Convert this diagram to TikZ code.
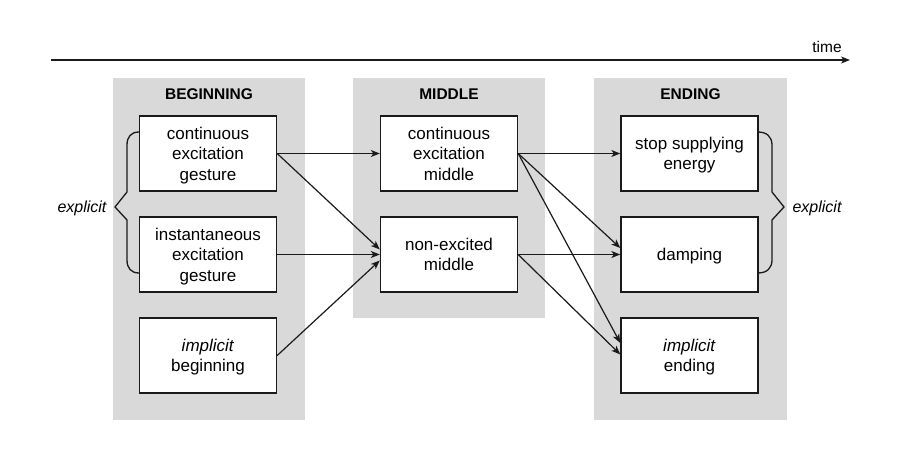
\documentclass[tikz,border=0pt]{standalone}
\usepackage{fontspec}
\setmainfont{Liberation Sans}
\usetikzlibrary{arrows.meta}
\definecolor{panelgray}{HTML}{D9D9D9}
\definecolor{edge}{HTML}{1A1A1A}
\tikzset{
  panel/.style={fill=panelgray, draw=none, inner sep=0pt, anchor=north west},
  stagebox/.style={draw=edge, line width=1.4pt, fill=white, minimum width=137pt, minimum height=75pt,
    align=center, inner sep=2pt, text depth=0pt, font=\fontsize{17}{20.5}\selectfont},
  paneltitle/.style={font=\fontsize{15.5}{18}\selectfont\bfseries},
  note/.style={font=\fontsize{16}{19}\selectfont\itshape},
  conn/.style={draw=edge, line width=1.2pt, -{Stealth[length=9pt,width=7pt,inset=2.5pt]}},
  bracel/.style={draw=edge, line width=1.3pt, line join=miter},
}
\begin{document}
\begin{tikzpicture}[x=1pt,y=-1pt]
\useasboundingbox[fill=white] (0,0) rectangle (900,468);
% time axis
\coordinate (t0) at (51,60);
\coordinate (t1) at (850,60);
\draw[conn] (t0) -- (t1);
\node[font=\fontsize{15.5}{18}\selectfont] (time) at (827,47) {time};
% panels
\node[panel, minimum width=192pt, minimum height=342pt] (pb) at (113,78) {};
\node[panel, minimum width=192pt, minimum height=240pt] (pm) at (353,78) {};
\node[panel, minimum width=193pt, minimum height=342pt] (pe) at (594,78) {};
\node[paneltitle] (tb) at (209,94) {BEGINNING};
\node[paneltitle] (tm) at (449,94) {MIDDLE};
\node[paneltitle] (te) at (690.5,94) {ENDING};
% boxes
\node[stagebox] (b1) at (208,153.5) {continuous\\excitation\\gesture};
\node[stagebox] (b2) at (208,254.5) {instantaneous\\excitation\\gesture};
\node[stagebox] (b3) at (208,355.5) {\textit{implicit}\\beginning};
\node[stagebox] (m1) at (449,153.5) {continuous\\excitation\\middle};
\node[stagebox] (m2) at (449,254.5) {non-excited\\middle};
\node[stagebox] (e1) at (689.5,153.5) {stop supplying\\energy};
\node[stagebox] (e2) at (689.5,254.5) {damping};
\node[stagebox] (e3) at (689.5,355.5) {\textit{implicit}\\ending};
% connectors
\draw[conn] (b1.east) -- (m1.west);
\draw[conn] (b1.east) -- ([yshift=5pt]m2.west);
\draw[conn] (b2.east) -- (m2.west);
\draw[conn] (b3.east) -- ([yshift=-6pt]m2.west);
\draw[conn] (m1.east) -- (e1.west);
\draw[conn] (m1.east) -- ([yshift=6.5pt]e2.west);
\draw[conn] (m1.east) -- ([yshift=12.5pt]e3.west);
\draw[conn] (m2.east) -- (e2.west);
\draw[conn] (m2.east) -- ([yshift=1pt]e3.west);
% braces
\coordinate (lb0) at (139,132);
\coordinate (lb1) at (139,273);
\coordinate (lbtip) at (115,207);
\draw[bracel] (lb0) .. controls (131,132) and (127,137) .. (127,145)
  -- (127,192) -- (lbtip) -- (127,220) -- (127,260)
  .. controls (127,268) and (131,273) .. (lb1);
\coordinate (rb0) at (758,132);
\coordinate (rb1) at (758,273);
\coordinate (rbtip) at (784,207);
\draw[bracel] (rb0) .. controls (767,132) and (772,137) .. (772,145)
  -- (772,192) -- (rbtip) -- (772,220) -- (772,260)
  .. controls (772,268) and (767,273) .. (rb1);
\node[note] (exl) at (82,208) {explicit};
\node[note] (exr) at (817,208) {explicit};
\end{tikzpicture}
\end{document}
